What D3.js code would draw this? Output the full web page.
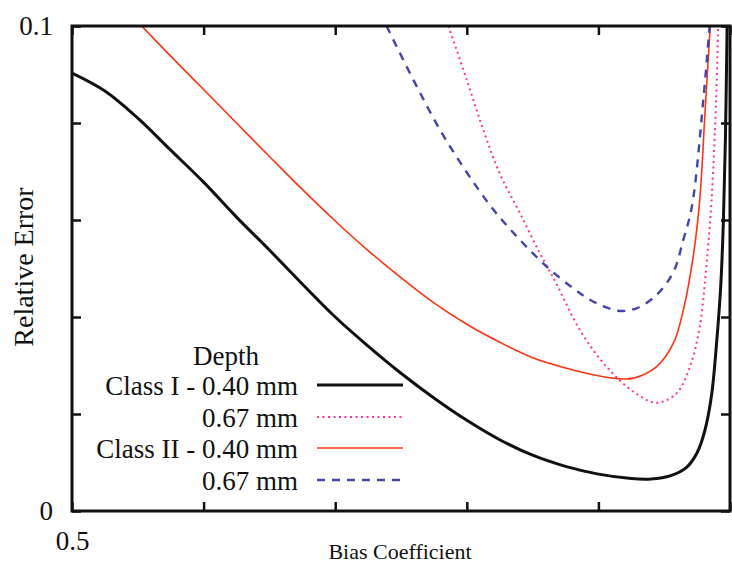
<!DOCTYPE html>
<html>
<head>
<meta charset="utf-8">
<script src="https://cdn.jsdelivr.net/npm/d3@7"></script>
<style>
  body { margin: 0; background: #fff; }
  svg { display: block; }
  text { font-family: "Liberation Serif", "DejaVu Serif", serif; fill: #111; }
</style>
</head>
<body>
<div id="chart"></div>
<script>
// Class I - 0.40 mm (black solid)
const bias1a = [0.50, 0.525, 0.55, 0.575, 0.60, 0.625, 0.65, 0.675, 0.70, 0.725, 0.75, 0.775, 0.80, 0.825, 0.85, 0.875, 0.90, 0.925, 0.94, 0.955, 0.967, 0.975, 0.981, 0.986, 0.990, 0.993, 0.995, 0.9965, 0.9978];
const err1a  = [0.0903, 0.0866, 0.0810, 0.0744, 0.0678, 0.0606, 0.0538, 0.0468, 0.0400, 0.0340, 0.0284, 0.0233, 0.0187, 0.0147, 0.0115, 0.0092, 0.0076, 0.0067, 0.0066, 0.0073, 0.0090, 0.0120, 0.0167, 0.0239, 0.0353, 0.0466, 0.0600, 0.0765, 0.1000];

// Class I - 0.67 mm (pink dotted)
const bias1b = [0.786, 0.80, 0.8125, 0.825, 0.8404, 0.8556, 0.868, 0.886, 0.906, 0.9266, 0.944, 0.9595, 0.9696, 0.977, 0.982, 0.986, 0.9894, 0.991];
const err1b  = [0.1000, 0.0889, 0.0786, 0.0696, 0.0614, 0.0531, 0.0469, 0.0373, 0.0298, 0.0246, 0.0223, 0.0243, 0.0298, 0.0380, 0.0504, 0.0641, 0.0847, 0.1000];

// Class II - 0.40 mm (red solid)
const bias2a = [0.5529, 0.575, 0.60, 0.625, 0.65, 0.675, 0.70, 0.725, 0.75, 0.775, 0.80, 0.825, 0.85, 0.875, 0.90, 0.915, 0.927, 0.944, 0.957, 0.9645, 0.972, 0.977, 0.981, 0.985];
const err2a  = [0.1000, 0.0938, 0.0869, 0.0800, 0.0731, 0.0663, 0.0598, 0.0537, 0.0481, 0.0429, 0.0385, 0.0348, 0.0316, 0.0295, 0.0279, 0.0273, 0.0274, 0.0297, 0.0346, 0.0414, 0.0524, 0.0641, 0.0821, 0.1000];

// Class II - 0.67 mm (blue dashed)
const bias2b = [0.739, 0.7594, 0.7796, 0.80, 0.82, 0.8404, 0.8607, 0.881, 0.896, 0.915, 0.929, 0.944, 0.957, 0.9645, 0.971, 0.9797, 0.9845];
const err2b  = [0.1000, 0.0889, 0.0786, 0.0698, 0.0622, 0.0559, 0.0504, 0.0459, 0.0432, 0.0413, 0.0418, 0.0445, 0.0493, 0.0559, 0.0627, 0.0847, 0.1000];

const legendLabels = ["Class I - 0.40 mm", "0.67 mm", "Class II - 0.40 mm", "0.67 mm"];
const xTicks = [0.5, 0.6, 0.7, 0.8, 0.9, 1.0];
const xTickLabels = ["0.5", "", "", "", "", ""];
const yTicks = [0, 0.02, 0.04, 0.06, 0.08, 0.1];
const yTickLabels = ["0", "", "", "", "", "0.1"];

// Build series table
const series = [
  { label: legendLabels[0], xs: bias1a, ys: err1a, color: "#111111", width: 3, dash: null },
  { label: legendLabels[1], xs: bias1b, ys: err1b, color: "#ff3399", width: 2, dash: "2,3.5" },
  { label: legendLabels[2], xs: bias2a, ys: err2a, color: "#ff3311", width: 1.6, dash: null },
  { label: legendLabels[3], xs: bias2b, ys: err2b, color: "#4444aa", width: 2.4, dash: "8,7" }
];

const W = 732, H = 566;
const margin = { top: 26, right: 2, bottom: 55, left: 72 };
const width = W - margin.left - margin.right;
const height = H - margin.top - margin.bottom;

const svg = d3.select("#chart").append("svg")
  .attr("width", W)
  .attr("height", H);

const g = svg.append("g")
  .attr("transform", "translate(" + margin.left + "," + margin.top + ")");

const x = d3.scaleLinear().domain([0.5, 1.0]).range([0, width]);
const y = d3.scaleLinear().domain([0, 0.1]).range([height, 0]);

// clip the curves to the frame
g.append("clipPath").attr("id", "clip")
  .append("rect").attr("width", width).attr("height", height);

const line = d3.line()
  .x(d => x(d[0]))
  .y(d => y(d[1]))
  .curve(d3.curveCatmullRom.alpha(0.5));

// curves
series.forEach(s => {
  const pts = s.xs.map((v, i) => [v, s.ys[i]]);
  g.append("path")
    .attr("clip-path", "url(#clip)")
    .attr("d", line(pts))
    .attr("fill", "none")
    .attr("stroke", s.color)
    .attr("stroke-width", s.width)
    .attr("stroke-dasharray", s.dash)
    .attr("stroke-linejoin", "round");
});

// axes, ticks pointing inward on all four sides
const tickLen = 9;
g.append("g")
  .attr("transform", "translate(0," + height + ")")
  .call(d3.axisBottom(x).tickValues(xTicks).tickSize(-tickLen).tickPadding(20)
    .tickFormat((d, i) => xTickLabels[i]));
g.append("g")
  .call(d3.axisTop(x).tickValues(xTicks).tickSize(-tickLen).tickFormat(""));
g.append("g")
  .call(d3.axisLeft(y).tickValues(yTicks).tickSize(-tickLen).tickPadding(19)
    .tickFormat((d, i) => yTickLabels[i]));
g.append("g")
  .attr("transform", "translate(" + width + ",0)")
  .call(d3.axisRight(y).tickValues(yTicks).tickSize(-tickLen).tickFormat(""));

g.selectAll(".tick line").attr("stroke", "#111").attr("stroke-width", 2.5);
g.selectAll(".domain").remove();
g.selectAll(".tick text")
  .style("font-family", "'Liberation Serif', serif")
  .style("font-size", "27px")
  .attr("fill", "#111");

// frame
g.append("rect")
  .attr("width", width)
  .attr("height", height)
  .attr("fill", "none")
  .attr("stroke", "#111")
  .attr("stroke-width", 3);

// axis titles
svg.append("text")
  .attr("x", 400)
  .attr("y", 559)
  .attr("text-anchor", "middle")
  .style("font-size", "22px")
  .text("Bias Coefficient");

svg.append("text")
  .attr("transform", "translate(33," + 267 + ") rotate(-90)")
  .attr("text-anchor", "middle")
  .style("font-size", "28px")
  .text("Relative Error");

// legend
const legend = svg.append("g");
legend.append("text")
  .attr("x", 226)
  .attr("y", 365)
  .attr("text-anchor", "middle")
  .style("font-size", "27px")
  .text("Depth");

const rowY = [395, 427, 458, 490];
series.forEach((s, i) => {
  legend.append("text")
    .attr("x", 298)
    .attr("y", rowY[i])
    .attr("text-anchor", "end")
    .style("font-size", "27px")
    .text(s.label);
  legend.append("line")
    .attr("x1", 317).attr("x2", 403)
    .attr("y1", rowY[i] - 10).attr("y2", rowY[i] - 10)
    .attr("stroke", s.color)
    .attr("stroke-width", s.width)
    .attr("stroke-dasharray", s.dash);
});
</script>
</body>
</html>
